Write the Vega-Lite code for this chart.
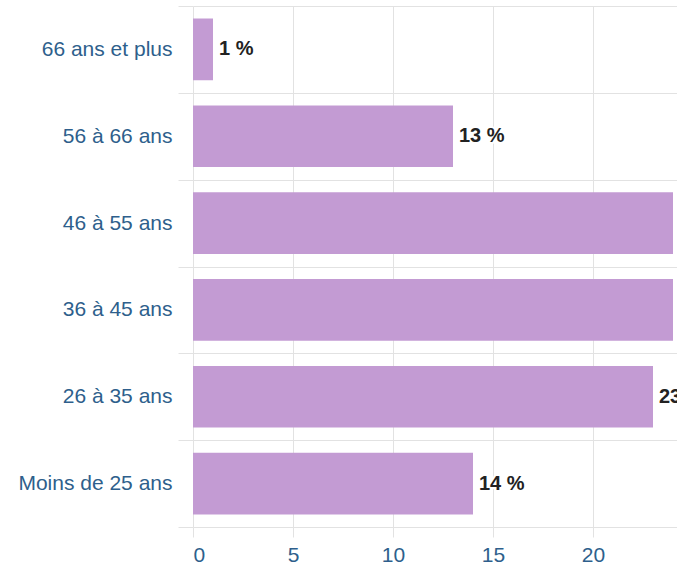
{
  "$schema": "https://vega.github.io/schema/vega-lite/v6.json",
  "autosize": {"type": "none"},
  "padding": {"left": 193, "top": 6, "right": 0, "bottom": 44},
  "width": 484,
  "height": 521,
  "background": "white",
  "config": {"view": {"stroke": null}, "font": "Liberation Sans"},
  "data": {
    "values": [
      {"age": "66 ans et plus", "pct": 1},
      {"age": "56 à 66 ans", "pct": 13},
      {"age": "46 à 55 ans", "pct": 24},
      {"age": "36 à 45 ans", "pct": 24},
      {"age": "26 à 35 ans", "pct": 23},
      {"age": "Moins de 25 ans", "pct": 14}
    ]
  },
  "transform": [{"calculate": "datum.pct + ' %'", "as": "label"}],
  "encoding": {
    "y": {
      "field": "age",
      "type": "nominal",
      "sort": null,
      "title": null,
      "scale": {"paddingInner": 0, "paddingOuter": 0},
      "axis": {
        "tickBand": "extent",
        "grid": true,
        "gridColor": "#e2e2e2",
        "tickColor": "#e2e2e2",
        "tickSize": 15,
        "domain": false,
        "labelPadding": 6,
        "labelFontSize": 21,
        "labelColor": "#2e5f8c",
        "labelFont": "Liberation Sans"
      }
    },
    "x": {
      "field": "pct",
      "type": "quantitative",
      "title": null,
      "scale": {"domain": [0, 24.2], "nice": false},
      "axis": {
        "values": [0, 5, 10, 15, 20],
        "grid": true,
        "gridColor": "#e2e2e2",
        "tickColor": "#e2e2e2",
        "tickSize": 10,
        "domain": false,
        "labelPadding": 7,
        "labelFontSize": 21,
        "labelColor": "#2e5f8c",
        "labelFont": "Liberation Sans"
      }
    }
  },
  "layer": [
    {"mark": {"type": "bar", "color": "#c39bd3", "height": {"band": 0.71}, "clip": true}},
    {
      "mark": {"type": "text", "align": "left", "dx": 6, "fontSize": 20, "fontWeight": "bold", "stroke": "white", "strokeWidth": 4, "fill": "white", "font": "Liberation Sans"},
      "encoding": {"text": {"field": "label"}}
    },
    {
      "mark": {"type": "text", "align": "left", "dx": 6, "fontSize": 20, "fontWeight": "bold", "color": "#222222", "font": "Liberation Sans"},
      "encoding": {"text": {"field": "label"}}
    }
  ]
}
